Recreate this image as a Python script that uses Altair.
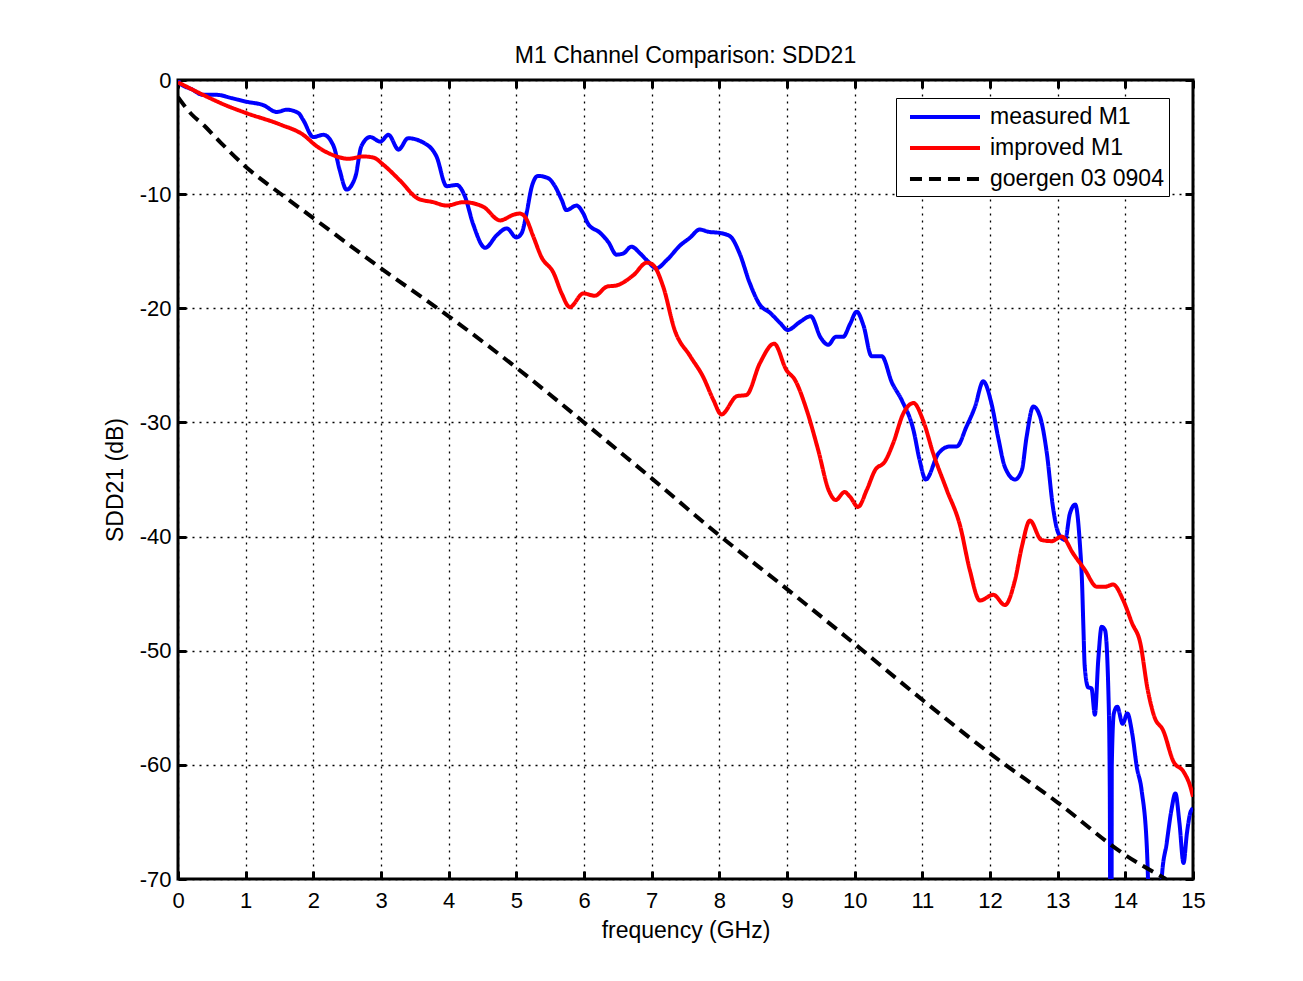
import altair as alt
import pandas as pd

# SDD21 (dB) against frequency (GHz)
measured_f = [0, 0.03, 0.2, 0.37, 0.57, 0.8, 1.01, 1.26, 1.46, 1.61, 1.78, 1.85, 2.0, 2.15, 2.3,
              2.39, 2.49, 2.62, 2.71, 2.84, 2.99, 3.11, 3.26, 3.4, 3.63, 3.82, 3.97, 4.12, 4.24,
              4.36, 4.54, 4.71, 4.86, 5.0, 5.08, 5.15, 5.23, 5.32, 5.47, 5.57, 5.67, 5.74, 5.89,
              5.99, 6.06, 6.24, 6.36, 6.48, 6.58, 6.7, 6.83, 6.93, 7.07, 7.22, 7.42, 7.57, 7.71,
              7.84, 8.01, 8.16, 8.3, 8.45, 8.6, 8.75, 8.9, 9.01, 9.19, 9.35, 9.5, 9.61, 9.72,
              9.83, 9.93, 10.03, 10.13, 10.25, 10.4, 10.55, 10.7, 10.87, 10.96, 11.05, 11.24,
              11.41, 11.51, 11.65, 11.78, 11.9, 12.02, 12.12, 12.22, 12.37, 12.47, 12.54, 12.64,
              12.74, 12.84, 12.93, 13.01, 13.11, 13.18, 13.26, 13.33, 13.36, 13.38, 13.4, 13.45,
              13.5, 13.55, 13.6, 13.65, 13.7, 13.75, 13.77, 13.78, 13.795, 13.8, 13.83, 13.88,
              13.96, 14.03, 14.1, 14.17, 14.24, 14.32, 14.36, 14.45, 14.52, 14.54, 14.61, 14.68,
              14.74, 14.8, 14.86, 14.91, 14.96, 15.0]
measured_db = [0, -0.3, -0.8, -1.3, -1.3, -1.6, -1.9, -2.2, -2.8, -2.6, -2.9, -3.5, -5.0, -4.8, -5.8,
               -7.9, -9.6, -8.5, -5.8, -5.0, -5.4, -4.8, -6.1, -5.1, -5.5, -6.7, -9.3, -9.2, -10.2,
               -12.6, -14.7, -13.6, -13.0, -13.8, -13.4, -11.7, -9.3, -8.4, -8.6, -9.3, -10.5, -11.4, -11.0,
               -11.7, -12.6, -13.4, -14.2, -15.3, -15.2, -14.6, -15.2, -15.8, -16.5, -15.8, -14.5, -13.8, -13.1,
               -13.3, -13.4, -13.7, -15.2, -17.8, -19.7, -20.4, -21.3, -21.9, -21.2, -20.7, -22.6, -23.2, -22.5,
               -22.5, -21.4, -20.3, -21.5, -24.2, -24.2, -26.5, -28.1, -30.7, -33.3, -35.0, -32.7,
               -32.1, -32.1, -30.4, -28.6, -26.4, -28.3, -31.3, -33.9, -35.0, -34.2, -31.3, -28.6,
               -29.5, -32.7, -37.4, -39.7, -40.3, -38.0, -37.2, -40.8, -44.0, -47.9, -51.4, -53.2,
               -53.3, -55.6, -50.8, -47.9, -48.2, -53.7, -62.0, -80.0, -80.0, -60.0, -55.5, -54.9,
               -56.4, -55.5, -57.2, -60.2, -62.2, -67.5, -74.0, -78.0, -74.0, -69.8, -66.9, -64.0,
               -62.5, -65.1, -68.6, -66.0, -64.2, -63.8]

improved_f = [0, 0.37, 0.7, 1.01, 1.51, 1.85, 2.05, 2.3, 2.52, 2.74, 2.89, 3.03, 3.28, 3.55, 3.77,
              3.97, 4.22, 4.51, 4.76, 4.96, 5.05, 5.13, 5.25, 5.37, 5.55, 5.67, 5.79, 5.99, 6.16,
              6.34, 6.48, 6.73, 6.93, 7.02, 7.17, 7.34, 7.57, 7.76, 7.91, 8.03, 8.26, 8.4, 8.6,
              8.81, 8.99, 9.12, 9.29, 9.46, 9.62, 9.72, 9.85, 9.93, 10.05, 10.18, 10.3, 10.45,
              10.57, 10.72, 10.87, 11.01, 11.16, 11.36, 11.56, 11.7, 11.85, 12.05, 12.22, 12.37,
              12.47, 12.59, 12.76, 12.91, 13.06, 13.23, 13.4, 13.58, 13.7, 13.82, 13.97, 14.1,
              14.22, 14.33, 14.43, 14.56, 14.71, 14.86, 14.96, 15.0]
improved_db = [-0.2, -1.3, -2.2, -2.9, -3.9, -4.8, -5.8, -6.6, -6.9, -6.7, -6.8, -7.4, -8.8, -10.4, -10.7,
               -11.0, -10.7, -11.1, -12.3, -11.8, -11.7, -12.0, -13.7, -15.5, -16.9, -18.7, -19.9, -18.7, -18.9,
               -18.1, -18.0, -17.1, -16.0, -16.2, -18.1, -21.9, -24.2, -26.0, -28.0, -29.3, -27.7, -27.6, -24.8,
               -23.1, -25.4, -26.3, -28.9, -32.4, -36.0, -36.8, -36.1, -36.5, -37.4, -35.9, -34.2, -33.4,
               -31.8, -29.2, -28.3, -29.8, -32.7, -35.9, -39.1, -42.9, -45.6, -45.1, -46.0, -43.8,
               -40.9, -38.6, -40.3, -40.4, -40.0, -41.5, -42.9, -44.4, -44.4, -44.2, -45.6, -47.6,
               -49.3, -53.4, -55.8, -57.0, -59.7, -60.6, -61.9, -62.8]

goergen_f = [0, 0.1, 0.2, 0.37, 0.6, 1, 1.5, 2, 3, 4, 5, 6, 7, 8, 9, 10, 11, 12, 13, 14, 14.6]
goergen_db = [-1.5, -2.3, -3.0, -3.9, -5.3, -7.6, -9.9, -12.1, -16.5, -20.7, -25.2, -30.0, -34.9,
              -39.9, -44.6, -49.4, -54.3, -59.0, -63.3, -67.9, -70.0]

series_names = ["measured M1", "improved M1", "goergen 03 0904"]
series_colors = ["#0000ff", "#ff0000", "#000000"]
series_dash = [[1, 0], [1, 0], [12, 7]]

x_ticks = list(range(0, 16))
y_ticks = list(range(-70, 1, 10))

rows = []
for name, fs, dbs in zip(series_names,
                         [measured_f, improved_f, goergen_f],
                         [measured_db, improved_db, goergen_db]):
    for i, (f, d) in enumerate(zip(fs, dbs)):
        rows.append({"series": name, "freq": f, "sdd21": d, "order": i})
df = pd.DataFrame(rows)

x_scale = alt.Scale(domain=[0, 15], nice=False, zero=False)
y_scale = alt.Scale(domain=[-70, 0], nice=False, zero=False)

# ticks point inwards like matlab: pull the axis 8px inside and hide its domain line
tick_style = dict(domain=False, offset=-8, tickSize=8, tickWidth=3, tickColor="black")
grid_style = dict(grid=True, gridColor="black", gridDash=[2, 5], gridWidth=1.3, gridOpacity=1)
label_style = dict(labelFontSize=22, labelColor="black", labelExpr="'' + datum.value", labelFlush=False,
                   titleFontSize=23, titleFontWeight="normal", titleColor="black")

# long flat custom symbol so the rows stay tight (path is scaled by sqrt(size)/2)
legend = alt.Legend(title=None, orient="none", legendX=718, legendY=18,
                    symbolType="M-3,0L3,0", symbolSize=545, symbolStrokeWidth=4,
                    symbolOffset=30, labelOffset=31,
                    labelFontSize=23, labelLimit=400,
                    strokeColor="black", fillColor="white", padding=5, rowPadding=5)

lines = alt.Chart(df).mark_line(clip=True, strokeWidth=4, interpolate="monotone").encode(
    x=alt.X("freq:Q", scale=x_scale,
            axis=alt.Axis(values=x_ticks, title="frequency (GHz)", labelPadding=11, titlePadding=8,
                          **tick_style, **grid_style, **label_style)),
    y=alt.Y("sdd21:Q", scale=y_scale,
            axis=alt.Axis(values=y_ticks, title="SDD21 (dB)", labelPadding=7, titlePadding=12,
                          **tick_style, **grid_style, **label_style)),
    color=alt.Color("series:N", scale=alt.Scale(domain=series_names, range=series_colors), legend=legend),
    strokeDash=alt.StrokeDash("series:N", scale=alt.Scale(domain=series_names, range=series_dash),
                              legend=legend),
    order="order:Q",
)

# invisible copy carrying the top / right tick marks of the box
box = alt.Chart(df).mark_line(opacity=0).encode(
    x=alt.X("freq:Q", scale=x_scale,
            axis=alt.Axis(orient="top", values=x_ticks, labels=False, title=None, grid=False, **tick_style)),
    y=alt.Y("sdd21:Q", scale=y_scale,
            axis=alt.Axis(orient="right", values=y_ticks, labels=False, title=None, grid=False, **tick_style)),
    detail="series:N",
)

chart = alt.layer(lines, box).resolve_axis(
    x="independent", y="independent"
).properties(
    width=1015,
    height=799,
    title=alt.TitleParams("M1 Channel Comparison: SDD21", fontSize=23, fontWeight="normal",
                          color="black", anchor="middle", offset=16, baseline="alphabetic", dy=33),
    padding={"left": 170, "top": 72, "right": 100, "bottom": 90},
    autosize=alt.AutoSizeParams(type="none"),
    background="white",
).configure(
    font="Liberation Sans"
).configure_view(
    stroke="black", strokeWidth=3
)

chart.save("out.html", embed_options={"renderer": "svg", "actions": False})
